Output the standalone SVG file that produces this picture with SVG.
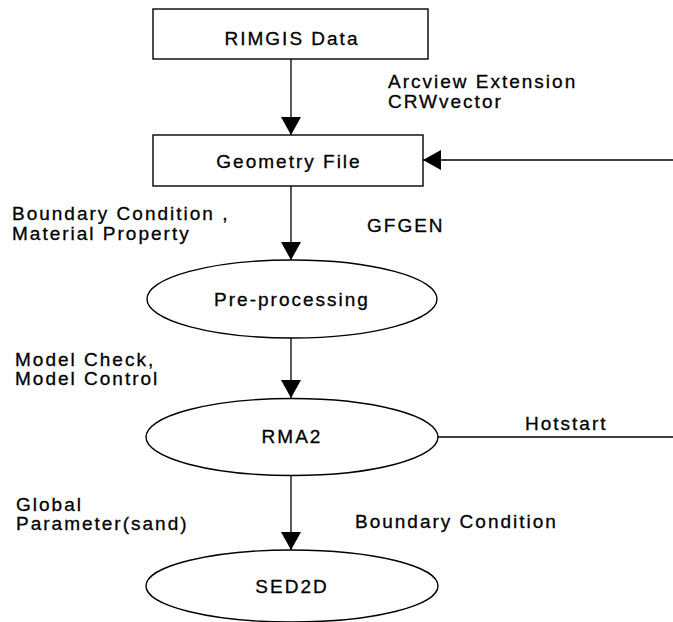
<svg xmlns="http://www.w3.org/2000/svg" width="673" height="622" viewBox="0 0 673 622">
  <style>
    .shape { fill: #ffffff; stroke: #000000; stroke-width: 1.4; }
    .link { fill: none; stroke: #000000; stroke-width: 1.3; }
    .label { font-family: "Liberation Sans", Arial, sans-serif; font-size: 19px; letter-spacing: 2px; fill: #000000; stroke: #000000; stroke-width: 0.3; }
    .mid { text-anchor: middle; }
  </style>
  <defs>
    <marker id="head" viewBox="0 0 18 20" refX="18" refY="10" markerWidth="18" markerHeight="20" markerUnits="userSpaceOnUse" orient="auto">
      <path d="M0,0 L18,10 L0,20 z" fill="#000000"/>
    </marker>
  </defs>

  <rect width="673" height="622" fill="#ffffff"/>

  <!-- connectors -->
  <g id="connectors">
    <line class="link" x1="291" y1="59" x2="291" y2="135" marker-end="url(#head)"/>
    <line class="link" x1="673" y1="160" x2="423" y2="160" marker-end="url(#head)"/>
    <line class="link" x1="291" y1="186" x2="291" y2="260" marker-end="url(#head)"/>
    <line class="link" x1="291" y1="338" x2="291" y2="398" marker-end="url(#head)"/>
    <line class="link" x1="438" y1="437" x2="673" y2="437"/>
    <line class="link" x1="291" y1="475" x2="291" y2="550" marker-end="url(#head)"/>
  </g>

  <!-- nodes -->
  <g id="rimgis">
    <rect class="shape" x="153" y="9" width="275" height="50"/>
    <text class="label mid" x="292" y="45">RIMGIS Data</text>
  </g>
  <g id="geometry">
    <rect class="shape" x="153" y="135" width="270" height="51"/>
    <text class="label mid" x="289" y="168">Geometry File</text>
  </g>
  <g id="preprocessing">
    <ellipse class="shape" cx="292" cy="299" rx="145" ry="39"/>
    <text class="label mid" x="292" y="306">Pre-processing</text>
  </g>
  <g id="rma2">
    <ellipse class="shape" cx="292" cy="437" rx="146" ry="38.5"/>
    <text class="label mid" x="292" y="443">RMA2</text>
  </g>
  <g id="sed2d">
    <ellipse class="shape" cx="292" cy="586" rx="146" ry="36"/>
    <text class="label mid" x="292" y="593">SED2D</text>
  </g>

  <!-- edge labels -->
  <g id="labels">
    <text class="label" x="388" y="88">Arcview Extension</text>
    <text class="label" x="388" y="108">CRWvector</text>
    <text class="label" x="12" y="220">Boundary Condition ,</text>
    <text class="label" x="12" y="240">Material Property</text>
    <text class="label" x="367" y="232">GFGEN</text>
    <text class="label" x="15" y="366">Model Check,</text>
    <text class="label" x="15" y="385">Model Control</text>
    <text class="label" x="525" y="430">Hotstart</text>
    <text class="label" x="16" y="511">Global</text>
    <text class="label" x="16" y="530">Parameter(sand)</text>
    <text class="label" x="355" y="528">Boundary Condition</text>
  </g>
</svg>
